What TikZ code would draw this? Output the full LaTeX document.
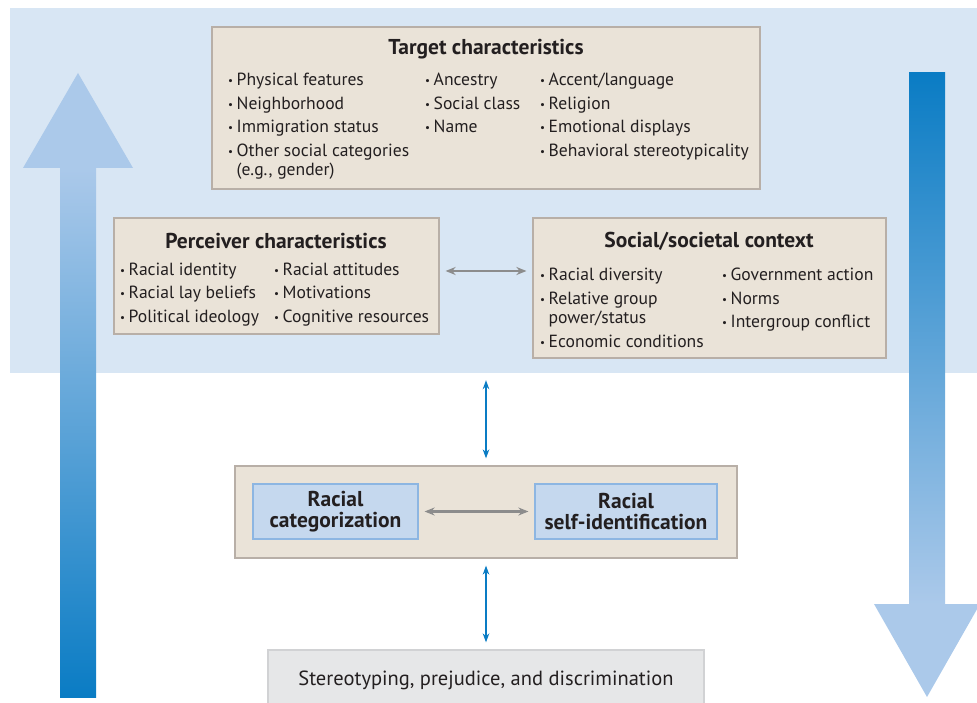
\documentclass[tikz,border=0pt]{standalone}
\usepackage{fontspec}
\setmainfont{PT Sans}
\usetikzlibrary{arrows.meta}
\definecolor{bandblue}{HTML}{D8E6F4}
\definecolor{boxfill}{HTML}{EAE3D8}
\definecolor{boxline}{HTML}{B8AFA7}
\definecolor{catfill}{HTML}{C5D8EE}
\definecolor{catline}{HTML}{8DB6E2}
\definecolor{outfill}{HTML}{E6E7E8}
\definecolor{outline}{HTML}{D1D2D4}
\definecolor{arrdark}{HTML}{0A7CC4}
\definecolor{arrlight}{HTML}{ABC9EA}
\definecolor{linkblue}{HTML}{0A7CC4}
\definecolor{linkgray}{HTML}{8C8C8C}
\definecolor{ink}{HTML}{231F20}
\newcommand\bl{\makebox[8.5pt][l]{\raisebox{1pt}{\fontsize{11}{11}\selectfont\textbullet}}}
\begin{document}
\begin{tikzpicture}[
		x=1pt,y=-1pt,
		box/.style={draw=boxline,fill=boxfill,line width=1.2pt,inner sep=0},
		catbox/.style={draw=catline,fill=catfill,line width=1.2pt,inner sep=0,align=center,
			text=ink,font=\bfseries\fontsize{21.5}{21}\selectfont},
		ttl/.style={inner sep=0,text=ink,font=\bfseries\fontsize{21.5}{21}\selectfont},
		itm/.style={anchor=west,inner sep=0,yshift=-2pt,text height=12pt,text depth=3.5pt,text=ink,
			font=\fontsize{17.6}{19}\selectfont},
		barr/.style={{Stealth[length=9pt,width=6.5pt]}-{Stealth[length=9pt,width=6.5pt]},
			draw=linkblue,line width=2pt,shorten >=7pt,shorten <=7pt},
		garr/.style={{Stealth[length=10pt,width=8pt]}-{Stealth[length=10pt,width=8pt]},
			draw=linkgray,line width=2.4pt,shorten >=6pt,shorten <=6pt}
		]
		\useasboundingbox (0,0) rectangle (977,703);
		% background band
		\node[fill=bandblue,inner sep=0,minimum width=967pt,minimum height=365pt] (band) at (493.5,190.5) {};
		% big arrows
		\shade[bottom color=arrdark,top color=arrlight] (60,697) rectangle (96,168);
		\fill[arrlight] (23,168) -- (78,73) -- (133,168) -- cycle;
		\shade[top color=arrdark,bottom color=arrlight] (909,73) rectangle (945,604);
		\fill[arrlight] (874,604) -- (927,697) -- (980,604) -- cycle;
		% boxes
		\node[box,minimum width=548pt,minimum height=162pt] (tgt) at (486,108) {};
		\node[box,minimum width=325pt,minimum height=116pt] (perc) at (276.5,276) {};
		\node[box,minimum width=353pt,minimum height=140pt] (soc) at (709.5,288) {};
		\node[box,minimum width=502pt,minimum height=92pt] (mid) at (486,512) {};
		\node[catbox,minimum width=165pt,minimum height=55pt] (cat) at (335.5,511.5) {Racial\\categorization};
		\node[catbox,minimum width=182pt,minimum height=55pt] (self) at (626,511.5) {Racial\\self-identification};
		\node[draw=outline,fill=outfill,line width=1.2pt,inner sep=0,minimum width=436pt,minimum height=60pt,
			text=ink,font=\fontsize{20.5}{21}\selectfont] (out) at (486,680) {Stereotyping, prejudice, and discrimination};
		% titles
		\node[ttl] (tgtT) at (486,49) {Target characteristics};
		\node[ttl] (percT) at (276,241) {Perceiver characteristics};
		\node[ttl] (socT) at (709,241) {Social/societal context};
		% bullet items
		\foreach \x/\y/\t [count=\i] in {
			228/79/\bl Physical features, 228/103/\bl Neighborhood, 228/126/\bl Immigration status,
			228/150/\bl Other social categories, 236.5/169/{(e.g., gender)},
			425/79/\bl Ancestry, 425/103/\bl Social class, 425/126/\bl Name,
			540/79/{\bl Accent/language}, 540/103/\bl Religion, 540/126/\bl Emotional displays,
			540/150/\bl Behavioral stereotypicality,
			120/269/\bl Racial identity, 120/292/\bl Racial lay beliefs, 120/316/\bl Political ideology,
			274/269/\bl Racial attitudes, 274/292/\bl Motivations, 274/316/\bl Cognitive resources,
			540/274/\bl Racial diversity, 540/298/\bl Relative group, 548.5/317/{power/status},
			540/341/\bl Economic conditions,
			722/274/\bl Government action, 722/298/\bl Norms, 722/321/\bl Intergroup conflict}
			\node[itm] (t\i) at (\x,\y) {\t};
		% links
		\draw[garr] ([yshift=5pt]perc.east) -- ([yshift=5pt]perc.east -| soc.west);
		\draw[garr] (cat) -- (self);
		\draw[barr] (band.south -| mid.north) -- (mid.north);
		\draw[barr] (mid.south) -- (out.north);
	\end{tikzpicture}
\end{document}
